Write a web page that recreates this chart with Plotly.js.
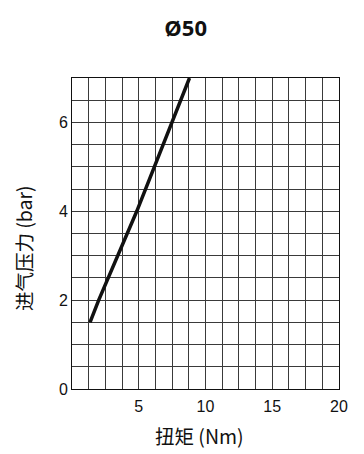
<!DOCTYPE html>
<html>
<head>
<meta charset="utf-8">
<script src="https://cdn.plot.ly/plotly-3.0.1.min.js"></script>
<style>html,body{margin:0;padding:0;background:#fff;}#chart{width:364px;height:454px;}</style>
</head>
<body>
<div id="chart"></div>
<script>
var torque = [1.35, 2.0, 4.85, 7.45, 8.8];
var pressure = [1.5, 2.0, 4.0, 6.0, 7.0];
var xTickVals = [5, 10, 15, 20];
var yTickVals = [0, 2, 4, 6];
var titleText = 'Ø50';
var xTitle = '扭矩 (Nm)';
var yTitle = '进气压力 (bar)';

var fontFam = '"Liberation Sans", Arial, "Noto Sans CJK SC", sans-serif';
var cjkFam = '"Noto Sans CJK SC", "Liberation Sans", sans-serif';
var gridCol = '#3a3a3a';

Plotly.newPlot('chart', [{
  x: torque, y: pressure, type: 'scatter', mode: 'lines',
  line: {color: '#111', width: 3.5}, hoverinfo: 'skip'
}], {
  width: 364, height: 454,
  margin: {l: 72, r: 25, t: 78, b: 65},
  paper_bgcolor: '#fff', plot_bgcolor: '#fff',
  showlegend: false,
  title: {text: '<b>' + titleText + '</b>', x: 0.51, xref: 'container', y: 0.955, yref: 'container',
    font: {family: '"Open Sans", "Noto Sans", sans-serif', size: 22, color: '#111'}},
  xaxis: {
    range: [0, 20], tickvals: xTickVals, ticks: '', showgrid: true, gridcolor: gridCol, gridwidth: 1,
    minor: {dtick: 1.25, tick0: 0, showgrid: true, gridcolor: gridCol, gridwidth: 1},
    showline: true, linecolor: '#111', linewidth: 1, mirror: true, zeroline: false,
    ticklabelstandoff: 3,
    tickfont: {family: fontFam, size: 16, color: '#111'}
  },
  yaxis: {
    range: [0, 7], tickvals: yTickVals, ticks: '', showgrid: true, gridcolor: gridCol, gridwidth: 1,
    minor: {dtick: 0.5, tick0: 0, showgrid: true, gridcolor: gridCol, gridwidth: 1},
    showline: true, linecolor: '#111', linewidth: 1, mirror: true, zeroline: false,
    tickfont: {family: fontFam, size: 16, color: '#111'}
  },
  annotations: [
    {text: xTitle, xref: 'paper', yref: 'paper', x: 0.4775, y: -0.151, xanchor: 'center', yanchor: 'middle',
     showarrow: false, font: {family: cjkFam, size: 19.5, color: '#111'}},
    {text: yTitle, xref: 'paper', yref: 'paper', x: -0.1835, y: 0.453, xanchor: 'center', yanchor: 'middle',
     textangle: -90, showarrow: false, font: {family: cjkFam, size: 19.5, color: '#111'}}
  ]
}, {displayModeBar: false, staticPlot: true});
</script>
</body>
</html>
